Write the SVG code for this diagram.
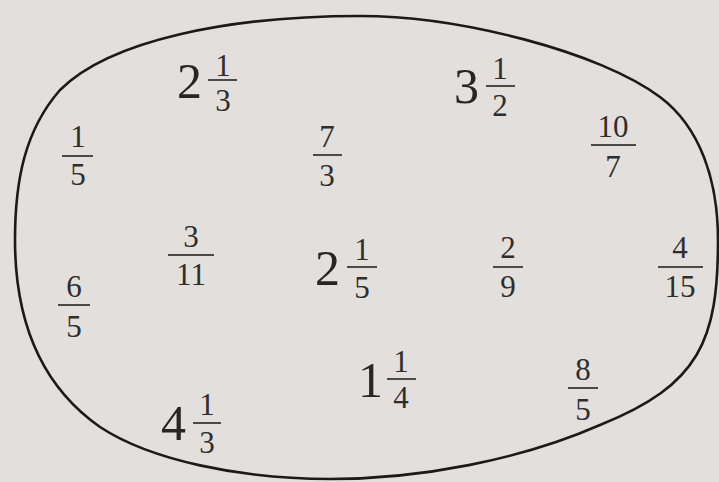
<svg xmlns="http://www.w3.org/2000/svg" width="719" height="482" viewBox="0 0 719 482">
<style>
.w{font-size:50px;fill:#262626}
.f{font-size:31px;fill:#2e2e2e;text-anchor:middle}
.b{stroke:#4a4a4a;stroke-width:2}
.blob{fill:none;stroke:#1a1a1a;stroke-width:2.6}
</style>
<rect width="719" height="482" fill="#e3dfdc"/>
<g id="set">
<path class="blob" d="M 360 16 C 460 16 600 52 660 97 C 700 127 718 180 718 240 C 718 340 700 385 600 425 C 520 460 420 479 330 479 C 240 479 150 460 100 427 C 40 385 15 320 15 240 C 15 180 25 130 60 90 C 110 40 230 16 360 16 Z"/>
</g>
<g font-family="'Liberation Serif', 'DejaVu Serif', serif">
<g id="n-2-1-3"><text class="w" x="177" y="98">2</text><text class="f" x="223" y="76">1</text><line class="b" x1="208" y1="80" x2="237" y2="80"/><text class="f" x="223" y="111">3</text></g>
<g id="n-3-1-2"><text class="w" x="454" y="103">3</text><text class="f" x="500" y="79">1</text><line class="b" x1="486" y1="86" x2="515" y2="86"/><text class="f" x="500" y="116">2</text></g>
<g id="n-1-5"><text class="f" x="78" y="147">1</text><line class="b" x1="62" y1="156" x2="93" y2="156"/><text class="f" x="78" y="185">5</text></g>
<g id="n-7-3"><text class="f" x="327" y="147">7</text><line class="b" x1="313" y1="155" x2="342" y2="155"/><text class="f" x="327" y="186">3</text></g>
<g id="n-10-7"><text class="f" x="613" y="137">10</text><line class="b" x1="591" y1="145" x2="636" y2="145"/><text class="f" x="613" y="177">7</text></g>
<g id="n-3-11"><text class="f" x="191" y="247">3</text><line class="b" x1="168" y1="255" x2="214" y2="255"/><text class="f" x="191" y="285">11</text></g>
<g id="n-2-1-5"><text class="w" x="315" y="285">2</text><text class="f" x="362" y="260">1</text><line class="b" x1="347" y1="267" x2="377" y2="267"/><text class="f" x="362" y="298">5</text></g>
<g id="n-2-9"><text class="f" x="508" y="258">2</text><line class="b" x1="493" y1="267" x2="523" y2="267"/><text class="f" x="508" y="297">9</text></g>
<g id="n-4-15"><text class="f" x="680" y="258">4</text><line class="b" x1="658" y1="267" x2="703" y2="267"/><text class="f" x="680" y="297">15</text></g>
<g id="n-6-5"><text class="f" x="74" y="297">6</text><line class="b" x1="58" y1="305" x2="90" y2="305"/><text class="f" x="74" y="337">5</text></g>
<g id="n-1-1-4"><text class="w" x="358" y="397">1</text><text class="f" x="401" y="372">1</text><line class="b" x1="387" y1="379" x2="416" y2="379"/><text class="f" x="401" y="408">4</text></g>
<g id="n-8-5"><text class="f" x="583" y="380">8</text><line class="b" x1="568" y1="388" x2="598" y2="388"/><text class="f" x="583" y="420">5</text></g>
<g id="n-4-1-3"><text class="w" x="161" y="440">4</text><text class="f" x="207" y="415">1</text><line class="b" x1="193" y1="423" x2="221" y2="423"/><text class="f" x="207" y="453">3</text></g>
</g>
</svg>
